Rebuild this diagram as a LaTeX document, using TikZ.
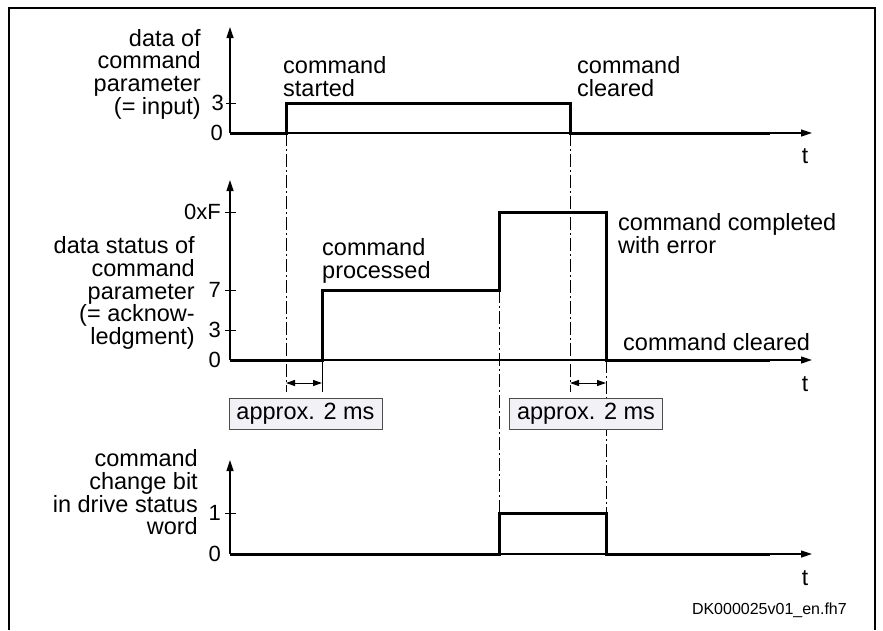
\documentclass[tikz,border=0pt]{standalone}
\usepackage{fontspec}
\setmainfont{Liberation Sans}
\usetikzlibrary{arrows.meta}
\definecolor{boxfill}{RGB}{241,241,246}
\tikzset{
  axisline/.style={line width=1.2pt, -{Triangle[length=11pt,width=7pt]}},
  signal/.style={line width=3pt, line join=miter},
  guide/.style={line width=1pt, dash pattern=on 13pt off 3pt on 2pt off 3pt},
  dimline/.style={line width=1pt, {Triangle[length=9pt,width=6pt]}-{Triangle[length=9pt,width=6pt]}},
  tickmark/.style={line width=1pt},
  lbl/.style={inner sep=0pt, font=\fontsize{23.5}{22.7}\selectfont},
  ticklbl/.style={inner sep=0pt, anchor=east, font=\fontsize{22}{22}\selectfont},
  tlbl/.style={inner sep=0pt, font=\fontsize{23}{24}\selectfont},
  ylab/.style={lbl, anchor=east, align=right},
  note/.style={lbl, anchor=west, align=left},
  msbox/.style={draw=black!70, line width=0.8pt, fill=boxfill, minimum width=153pt, minimum height=31pt, inner sep=0pt, font=\fontsize{23.5}{24}\selectfont},
  frameline/.style={line width=2.2pt}
}
\begin{document}
\begin{tikzpicture}[x=1pt,y=-1pt]
\useasboundingbox (0,0) rectangle (883,630);
% frame
\draw[frameline] (9,630) -- (9,8) -- (875,8) -- (875,630);

% ---------- plot 1 ----------
\coordinate (o1) at (230,133);
\coordinate (y1) at (230,27);
\coordinate (x1) at (812,133);
\draw[axisline] (o1) -- (y1);
\draw[axisline] (o1) -- (x1);
\draw[tickmark] (226,103) -- (236,103);
\node[ticklbl] (p1z) at (223,133) {0};
\node[ticklbl] (p1t) at (224,103) {3};
\node[tlbl] (t1) at (805,156) {t};
\node[ylab] (l1) at (201,74) {data of\\command\\parameter\\(= input)};
\coordinate (a1) at (286,133);
\coordinate (a2) at (286,103);
\coordinate (a3) at (570,103);
\coordinate (a4) at (570,133);
\coordinate (a5) at (770,133);
\draw[signal] (o1) -- (a1) -- (a2) -- (a3) -- (a4) -- (a5);
\node[note] (cs) at (283,76.5) {command\\started};
\node[note] (cc1) at (577,76.5) {command\\cleared};

% ---------- plot 2 ----------
\coordinate (o2) at (230,360);
\coordinate (y2) at (230,180);
\coordinate (x2) at (812,360);
\draw[axisline] (o2) -- (y2);
\draw[axisline] (o2) -- (x2);
\draw[tickmark] (225,212) -- (236,212);
\draw[tickmark] (225,290) -- (236,290);
\draw[tickmark] (225,330) -- (236,330);
\node[ticklbl] (p2z) at (221,360) {0};
\node[ticklbl] (p2a) at (221,330) {3};
\node[ticklbl] (p2b) at (221,290) {7};
\node[ticklbl] (p2c) at (221,212) {0xF};
\node[tlbl] (t2) at (805,384) {t};
\node[ylab] (l2) at (195,293) {data status of\\command\\parameter\\(= acknow-\\ledgment)};
\coordinate (b1) at (322,360);
\coordinate (b2) at (322,290);
\coordinate (b3) at (499,290);
\coordinate (b4) at (499,212);
\coordinate (b5) at (606,212);
\coordinate (b6) at (606,360);
\coordinate (b7) at (770,360);
\draw[signal] (o2) -- (b1) -- (b2) -- (b3) -- (b4) -- (b5) -- (b6) -- (b7);
\node[note] (cp) at (322,261) {command\\processed};
\node[note] (ce) at (618,233.5) {command completed\\with error};
\node[note] (cc2) at (623,342) {command cleared};

% ---------- plot 3 ----------
\coordinate (o3) at (230,554);
\coordinate (y3) at (230,460);
\coordinate (x3) at (812,554);
\draw[axisline] (o3) -- (y3);
\draw[axisline] (o3) -- (x3);
\draw[tickmark] (225,513) -- (236,513);
\node[ticklbl] (p3z) at (221,554) {0};
\node[ticklbl] (p3a) at (221,513) {1};
\node[tlbl] (t3) at (805,578) {t};
\node[ylab] (l3) at (198,492.5) {command\\change bit\\in drive status\\word};
\coordinate (c1) at (499,554);
\coordinate (c2) at (499,513);
\coordinate (c3) at (606,513);
\coordinate (c4) at (606,554);
\coordinate (c5) at (770,554);
\draw[signal] (o3) -- (c1) -- (c2) -- (c3) -- (c4) -- (c5);

% ---------- guide lines ----------
\coordinate (g1) at (286,392);
\coordinate (g2) at (570,392);
\coordinate (g3) at (322,392);
\coordinate (g4) at (499,513);
\coordinate (g5) at (606,513);
\draw[guide] (a1) -- (g1);
\draw[guide] (a4) -- (g2);
\draw[line width=1pt] (b1) -- (g3);
\draw[guide] (b3) -- (g4);
\draw[guide] (b6) -- (g5);

% ---------- dimensions ----------
\coordinate (d1) at (286,383);
\coordinate (d2) at (322,383);
\coordinate (d3) at (570,383);
\coordinate (d4) at (606,383);
\draw[dimline] (d1) -- (d2);
\draw[dimline] (d3) -- (d4);
\node[msbox] (m1) at (305.5,413.5) {approx. 2 ms};
\node[msbox] (m2) at (586,413.5) {approx. 2 ms};

\node[inner sep=0pt, anchor=east, font=\fontsize{16}{18}\selectfont] (dk) at (847,610) {DK000025v01\_en.fh7};
\end{tikzpicture}
\end{document}
